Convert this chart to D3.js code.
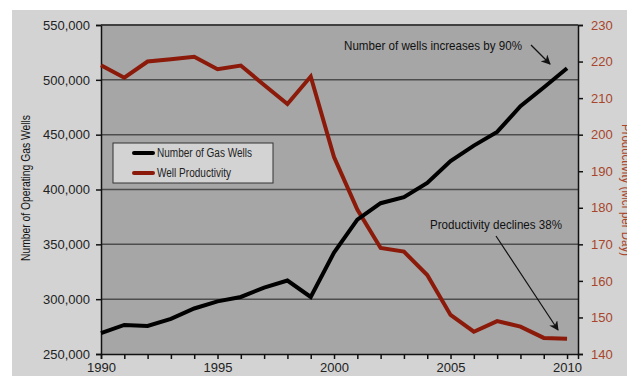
<!DOCTYPE html>
<html>
<head>
<meta charset="utf-8">
<script src="https://cdn.jsdelivr.net/npm/d3@7"></script>
<style>
  body { margin: 0; background: #fff; }
  text { font-family: "Liberation Sans", Arial, sans-serif; }
</style>
</head>
<body>
<svg id="chart"></svg>
<script>
// 1) Data -----------------------------------------------------------
const years = d3.range(1990, 2011);
const gasWells = [269000, 276500, 275500, 282000, 291500, 298000, 302000, 310500, 317000, 302000,
  342500, 372500, 387500, 393000, 406000, 426000, 440000, 452500, 476000, 493000, 510500];
const productivity = [219.0, 215.6, 220.0, 220.6, 221.3, 217.9, 218.9, 213.6, 208.4, 215.9,
  193.9, 179.5, 169.0, 168.0, 161.6, 150.7, 146.1, 149.0, 147.5, 144.4, 144.2];
const leftTicks = [250000, 300000, 350000, 400000, 450000, 500000, 550000];
const rightTicks = [140, 150, 160, 170, 180, 190, 200, 210, 220, 230];
const xLabels = [1990, 1995, 2000, 2005, 2010];

// 2) Dimensions -----------------------------------------------------
const width = 627, height = 376;
const margin = { top: 25, right: 49, bottom: 22, left: 101 };
const svg = d3.select('#chart').attr('width', width).attr('height', height);

const x = d3.scaleLinear().domain([1990, 2010.47]).range([margin.left, width - margin.right]);
const yL = d3.scaleLinear().domain([250000, 550000]).range([height - margin.bottom, margin.top]);
const yR = d3.scaleLinear().domain([140, 230]).range([height - margin.bottom, margin.top]);

// narrow text helper: squeeze to the width seen in the picture
function narrow(sel, len) {
  return sel.attr('textLength', len).attr('lengthAdjust', 'spacingAndGlyphs');
}

// 3) Backgrounds ----------------------------------------------------
svg.append('rect').attr('x', 12).attr('y', 10).attr('width', width - 12).attr('height', height - 10)
  .attr('fill', '#d3d3d3');
svg.append('rect')
  .attr('x', margin.left).attr('y', margin.top)
  .attr('width', width - margin.right - margin.left)
  .attr('height', height - margin.bottom - margin.top)
  .attr('fill', '#a6a6a6');

// gridlines
svg.append('g').selectAll('line')
  .data(leftTicks.slice(1))
  .enter().append('line')
  .attr('x1', margin.left).attr('x2', width - margin.right)
  .attr('y1', d => yL(d)).attr('y2', d => yL(d))
  .attr('stroke', '#4d4d4d').attr('stroke-width', 1.5);

// 4) Axes -----------------------------------------------------------
const fmt = d3.format(',');
const gL = svg.append('g').attr('transform', `translate(${margin.left},0)`)
  .call(d3.axisLeft(yL).tickValues(leftTicks).tickFormat(fmt).tickSize(5).tickPadding(6));
gL.selectAll('text').attr('font-size', 13).attr('fill', '#222');

const gR = svg.append('g').attr('transform', `translate(${width - margin.right},0)`)
  .call(d3.axisRight(yR).tickValues(rightTicks).tickSize(5).tickPadding(8));
gR.selectAll('text').attr('font-size', 13).attr('fill', '#a8452a');

const gX = svg.append('g').attr('transform', `translate(0,${height - margin.bottom})`)
  .call(d3.axisBottom(x).tickValues(years).tickSize(5).tickPadding(4)
    .tickFormat(d => xLabels.includes(d) ? d : ''));
gX.selectAll('text').attr('font-size', 13).attr('fill', '#222');

[gL, gR, gX].forEach(g => {
  g.select('.domain').attr('stroke', '#111').attr('stroke-width', 1.5);
  g.selectAll('.tick line').attr('stroke', '#111').attr('stroke-width', 1.5);
});
// top border
svg.append('line')
  .attr('x1', margin.left).attr('x2', width - margin.right)
  .attr('y1', margin.top).attr('y2', margin.top)
  .attr('stroke', '#333').attr('stroke-width', 1.5);

// axis titles
narrow(svg.append('text')
  .attr('transform', `translate(30,188) rotate(-90)`)
  .attr('text-anchor', 'middle').attr('font-size', 13).attr('fill', '#111')
  .text('Number of Operating Gas Wells'), 146);
narrow(svg.append('text')
  .attr('transform', `translate(622,124) rotate(90)`)
  .attr('text-anchor', 'start').attr('font-size', 13).attr('fill', '#a8452a')
  .text('Productivity (Mcf per Day)'), 132);

// 5) Lines ----------------------------------------------------------
const lineL = d3.line().x((d, i) => x(years[i])).y(d => yL(d));
const lineR = d3.line().x((d, i) => x(years[i])).y(d => yR(d));

svg.append('path').datum(productivity)
  .attr('d', lineR).attr('fill', 'none')
  .attr('stroke', '#8b1a0a').attr('stroke-width', 4).attr('stroke-linejoin', 'miter');
svg.append('path').datum(gasWells)
  .attr('d', lineL).attr('fill', 'none')
  .attr('stroke', '#000').attr('stroke-width', 4).attr('stroke-linejoin', 'miter');

// 6) Legend ---------------------------------------------------------
const legend = svg.append('g').attr('transform', 'translate(113,143)');
legend.append('rect').attr('width', 160).attr('height', 40)
  .attr('fill', '#d3d3d3').attr('stroke', '#333').attr('stroke-width', 1);
[['Number of Gas Wells', '#000', 95], ['Well Productivity', '#8b1a0a', 74]].forEach((d, i) => {
  legend.append('line')
    .attr('x1', 21).attr('x2', 40).attr('y1', 10 + i * 20).attr('y2', 10 + i * 20)
    .attr('stroke', d[1]).attr('stroke-width', 4).attr('stroke-linecap', 'round');
  narrow(legend.append('text')
    .attr('x', 44).attr('y', 10 + i * 20).attr('dy', '0.35em')
    .attr('font-size', 12).attr('fill', '#222').text(d[0]), d[2]);
});

// 7) Annotations ----------------------------------------------------
svg.append('defs').append('marker')
  .attr('id', 'arrow').attr('viewBox', '0 0 10 10')
  .attr('refX', 9).attr('refY', 5)
  .attr('markerWidth', 8).attr('markerHeight', 8)
  .attr('orient', 'auto')
  .append('path').attr('d', 'M0,0 L10,5 L0,10 L3,5 Z').attr('fill', '#111');

narrow(svg.append('text').attr('x', 344).attr('y', 50).attr('font-size', 13).attr('fill', '#111')
  .text('Number of wells increases by 90%'), 178);
svg.append('line').attr('x1', 531).attr('y1', 45).attr('x2', 550).attr('y2', 64)
  .attr('stroke', '#111').attr('stroke-width', 1.2).attr('marker-end', 'url(#arrow)');

narrow(svg.append('text').attr('x', 430).attr('y', 229).attr('font-size', 13).attr('fill', '#111')
  .text('Productivity declines 38%'), 132);
svg.append('line').attr('x1', 496).attr('y1', 236).attr('x2', 558).attr('y2', 330)
  .attr('stroke', '#111').attr('stroke-width', 1.2).attr('marker-end', 'url(#arrow)');
</script>
</body>
</html>
